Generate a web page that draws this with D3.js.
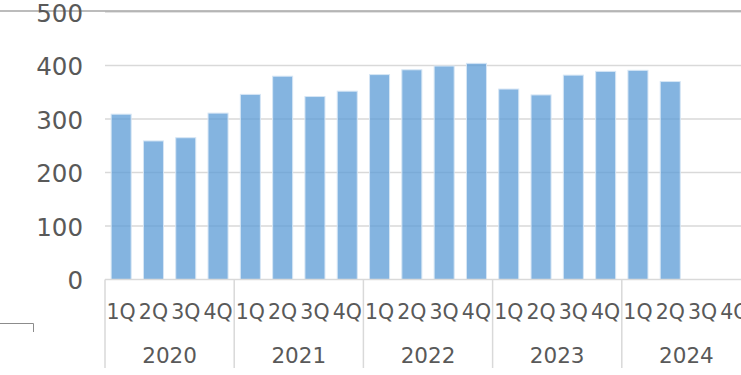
<!DOCTYPE html>
<html>
<head>
<meta charset="utf-8">
<script src="https://cdn.jsdelivr.net/npm/d3@7"></script>
<style>
  html, body { margin: 0; padding: 0; background: #fff; }
  svg { display: block; font-family: "DejaVu Sans", Verdana, sans-serif; }
</style>
</head>
<body>
<svg id="chart" width="741" height="375"></svg>
<script>
// Quarterly values, 2020 1Q through 2024 4Q
const years = ["2020", "2021", "2022", "2023", "2024"];
const quarters = ["1Q", "2Q", "3Q", "4Q"];
const values = [
  309, 259, 265, 311,
  346, 380, 342, 352,
  383, 392, 399, 404,
  356, 345, 382, 389,
  391, 370, null, null
];
const yTicks = [0, 100, 200, 300, 400, 500];

const slots = [];
years.forEach(y => quarters.forEach(q => slots.push({ key: y + "-" + q, year: y, q })));
const data = slots.map((s, i) => ({ ...s, value: values[i] }));

const svg = d3.select("#chart");
const plotLeft = 105, plotRight = 751, plotTop = 12, plotBottom = 279.5;

const x = d3.scaleBand()
  .domain(slots.map(s => s.key))
  .range([plotLeft, plotRight])
  .paddingInner(0.38)
  .paddingOuter(0.19);
const step = x.step();

const y = d3.scaleLinear().domain([0, 500]).range([plotBottom, plotTop]);

// Horizontal gridlines
svg.append("g")
  .selectAll("line")
  .data(yTicks.filter(t => t > 0))
  .join("line")
  .attr("x1", plotLeft).attr("x2", 741)
  .attr("y1", d => y(d)).attr("y2", d => y(d))
  .attr("stroke", "#d9d9d9").attr("stroke-width", 1.5);

// Top frame line
svg.append("line")
  .attr("x1", 0).attr("x2", 741)
  .attr("y1", 11).attr("y2", 11)
  .attr("stroke", "#a6a6a6").attr("stroke-width", 1.5);

// Bars (semi-transparent so gridlines show through)
svg.append("g")
  .selectAll("rect")
  .data(data.filter(d => d.value != null))
  .join("rect")
  .attr("x", d => x(d.key))
  .attr("width", x.bandwidth())
  .attr("y", d => y(d.value))
  .attr("height", d => y(0) - y(d.value))
  .attr("fill", "rgb(91,155,213)")
  .attr("fill-opacity", 0.75)
  .attr("stroke", "#d6e6f5")
  .attr("stroke-width", 1);

// Y axis labels
svg.append("g")
  .selectAll("text")
  .data(yTicks)
  .join("text")
  .attr("x", 83)
  .attr("y", d => y(d) + 1)
  .attr("dy", "0.36em")
  .attr("text-anchor", "end")
  .attr("font-size", 24.5)
  .attr("fill", "#595959")
  .text(d => d);

// Category axis baseline
svg.append("line")
  .attr("x1", plotLeft).attr("x2", 741)
  .attr("y1", y(0)).attr("y2", y(0))
  .attr("stroke", "#d9d9d9").attr("stroke-width", 1.5);

// Year group separators
const groupEdges = d3.range(years.length + 1).map(i => plotLeft + i * 4 * step);
svg.append("g")
  .selectAll("line")
  .data(groupEdges)
  .join("line")
  .attr("x1", d => d).attr("x2", d => d)
  .attr("y1", y(0)).attr("y2", 368)
  .attr("stroke", "#d9d9d9").attr("stroke-width", 1.5);

// Quarter labels
svg.append("g")
  .selectAll("text")
  .data(data)
  .join("text")
  .attr("x", d => x(d.key) + x.bandwidth() / 2)
  .attr("y", 318.5)
  .attr("text-anchor", "middle")
  .attr("font-size", 20.5)
  .attr("fill", "#595959")
  .text(d => d.q);

// Year labels
svg.append("g")
  .selectAll("text")
  .data(years)
  .join("text")
  .attr("x", (d, i) => plotLeft + (i * 4 + 2) * step)
  .attr("y", 362.5)
  .attr("text-anchor", "middle")
  .attr("font-size", 21.5)
  .attr("fill", "#595959")
  .text(d => d);

// Small frame corner at lower left
svg.append("path")
  .attr("d", "M0,323.5 H33.5 V332")
  .attr("fill", "none")
  .attr("stroke", "#8c8c8c")
  .attr("stroke-width", 1);
</script>
</body>
</html>
